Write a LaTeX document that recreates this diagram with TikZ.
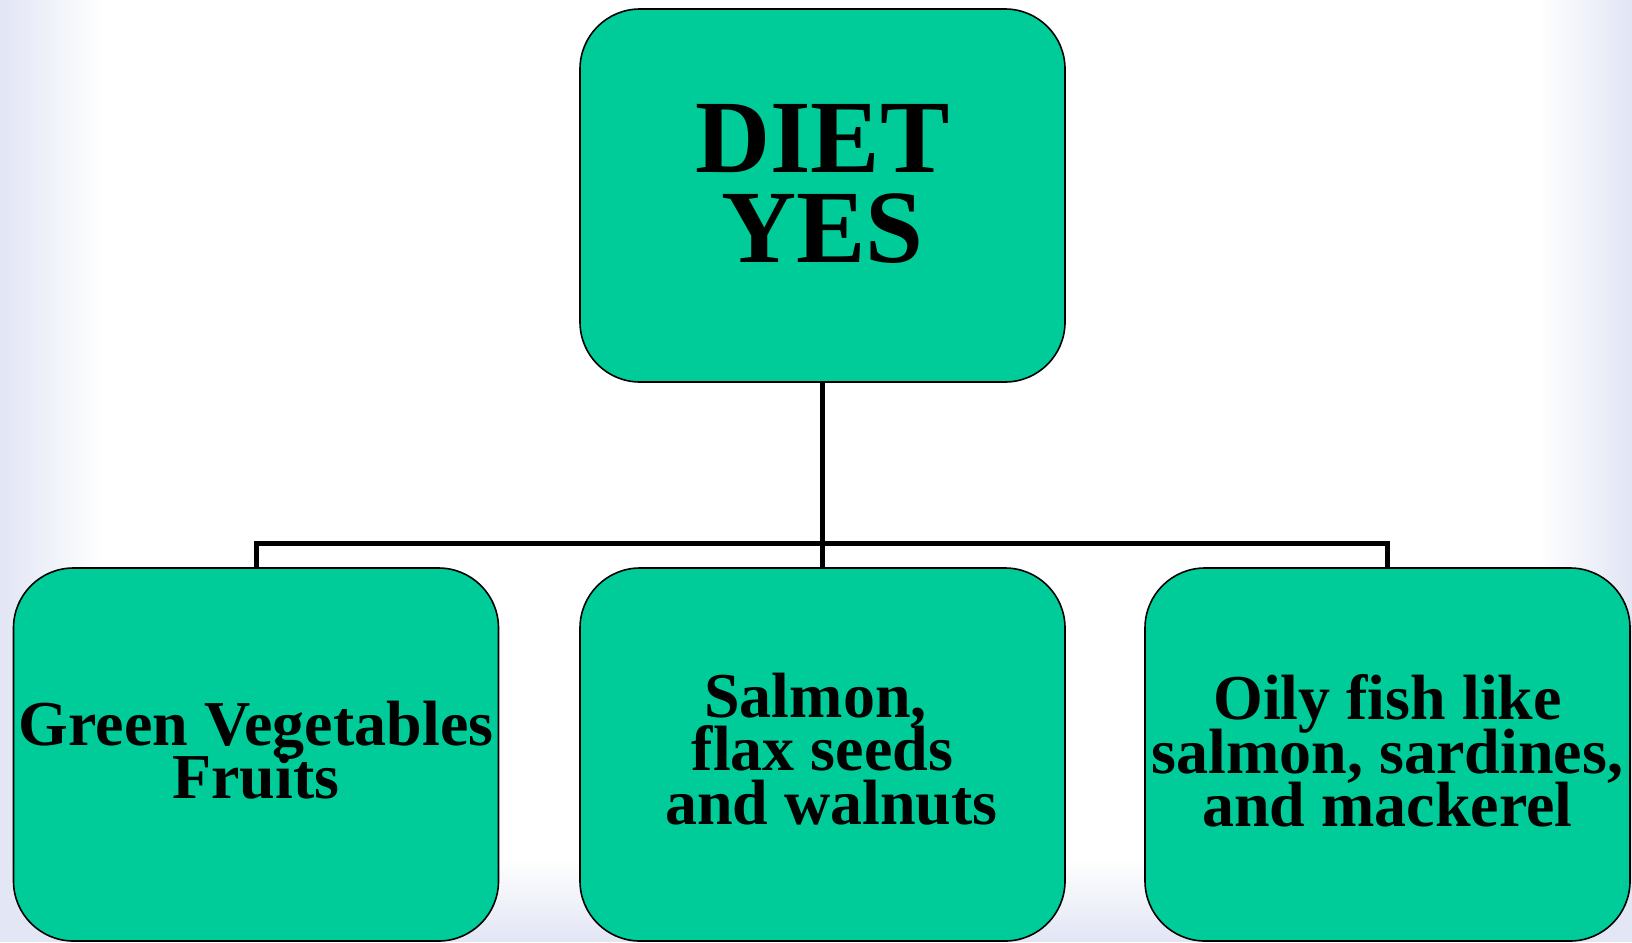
\documentclass[tikz,border=0pt]{standalone}
\usepackage{fontspec}
\setmainfont{Liberation Serif}
\usepackage{xcolor}
\usetikzlibrary{fadings}
\definecolor{dietgreen}{RGB}{0,204,153}
\definecolor{edgeblue}{RGB}{226,230,245}
\newcommand\tightlines{\lineskiplimit-50pt\relax\lineskip0pt\relax}
\tikzset{box/.style={draw=black, line width=0.8pt, fill=dietgreen,
   rounded corners=30pt, minimum width=242.5pt, minimum height=186.5pt},
 boxtext/.style={align=center, inner sep=0pt,
   font=\bfseries\fontsize{32}{26.8}\selectfont\tightlines},
 toptext/.style={align=center, inner sep=0pt,
   font=\bfseries\fontsize{52}{45}\selectfont\tightlines},
 link/.style={draw=black, line width=2.5pt},
 }

\begin{document}
\begin{tikzpicture}[x=0.5pt, y=-0.5pt]
        \useasboundingbox (0,0) rectangle (1632,942);
        % background
        \fill[white] (0,0) rectangle (1632,942);
        \fill[edgeblue, path fading=north] (0,860) rectangle (1632,942);
        \fill[edgeblue, path fading=east] (0,0) rectangle (100,942);
        \fill[edgeblue, path fading=west] (1540,0) rectangle (1632,942);

        \node[box] (diet) at (822.5,195.5) {};
        \node[box] (veg) at (256,754.5) {};
        \node[box] (seeds) at (822.5,754.5) {};
        \node[box] (fish) at (1387.5,754.5) {};

        \coordinate (bus) at (822.5,543);
        \draw[link] (diet.south) -- (seeds.north);
        \draw[link] (veg.north) |- (bus) -| (fish.north);

        \node[toptext] (diet-t) at (822.5,184) {DIET\\YES};
        \node[boxtext] (veg-t) at (256,750) {Green Vegetables\\Fruits};
        \node[boxtext] (seeds-t) at (822.5,749) {Salmon,\rule{7pt}{0pt}\\flax seeds\\\rule{9pt}{0pt}and walnuts};
        \node[boxtext] (fish-t) at (1387.5,751) {Oily fish like\\salmon, sardines,\\and mackerel};
    \end{tikzpicture}
\end{document}
